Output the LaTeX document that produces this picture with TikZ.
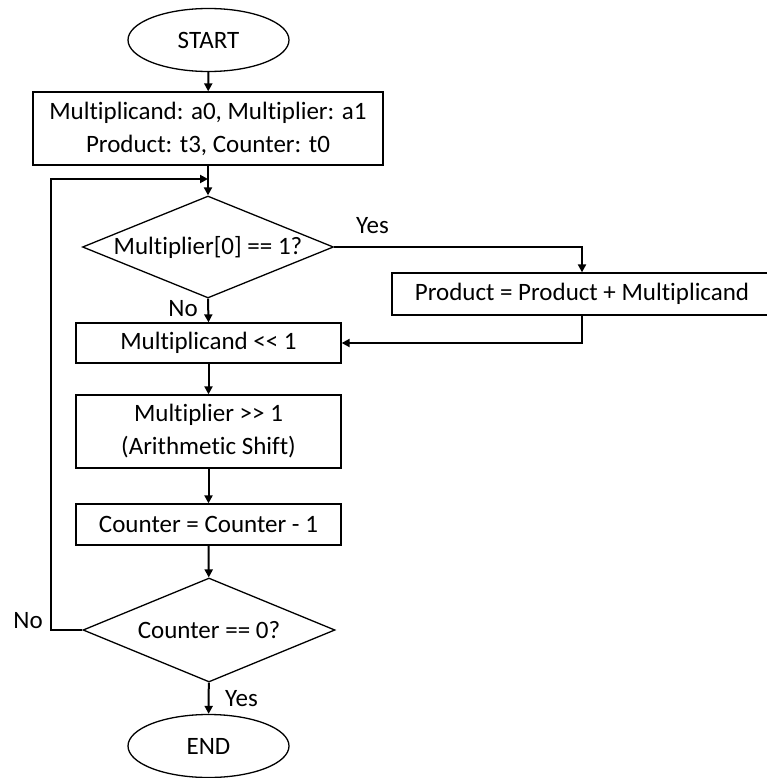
\documentclass[tikz,border=0pt]{standalone}
\usepackage{fontspec}
\setmainfont[Ligatures=NoCommon]{Carlito}
\usetikzlibrary{shapes.geometric,arrows.meta}
\begin{document}
\begin{tikzpicture}[x=1pt,y=-1pt,
  every node/.style={font=\fontsize{25}{33}\selectfont},
  procbox/.style={draw=black,line width=1.3pt,rectangle,inner sep=0pt,align=center},
  termbox/.style={draw=black,line width=1.3pt,ellipse,inner sep=0pt,minimum width=161pt,minimum height=63pt},
  decbox/.style={draw=black,line width=1.3pt,diamond,aspect=2.46,inner sep=0pt},
  conn/.style={line width=2pt,-{Triangle[length=8pt,width=8pt]}},
  lbl/.style={inner sep=0pt}
]
\useasboundingbox (0,0) rectangle (766,778);
\node[termbox] (start) at (208.5,40) {START};
\node[procbox,minimum width=350pt,minimum height=73pt] (init) at (208,128.5) {Multiplicand: a0, Multiplier: a1\\Product: t3, Counter: t0};
\node[decbox,minimum width=251pt,minimum height=102pt] (d1) at (208,247) {Multiplier[0] == 1?};
\node[procbox,minimum width=380pt,minimum height=42pt] (prod) at (582,294) {Product = Product + Multiplicand};
\node[procbox,minimum width=265pt,minimum height=40pt] (mcand) at (208.5,343) {Multiplicand {<}{<} 1};
\node[procbox,minimum width=265pt,minimum height=73pt] (mplier) at (208.5,431.5) {Multiplier {>}{>} 1\\(Arithmetic Shift)};
\node[procbox,minimum width=265pt,minimum height=41pt] (counter) at (208.5,524.5) {Counter = Counter - 1};
\node[decbox,minimum width=252pt,minimum height=104pt] (d2) at (209,630) {Counter == 0?};
\node[termbox] (end) at (208.5,746) {END};
\coordinate (j) at (208,179);
\coordinate (lp) at (51,630);
\draw[conn] (start) -- (init);
\draw[line width=2pt] (init.south) -- (j);
\draw[conn] (j) -- (d1.north);
\draw[conn] (d1.east) -| (prod.north);
\draw[conn] (prod.south) |- (mcand.east);
\draw[conn] (d1.south) -- (mcand.north);
\draw[conn] (mcand) -- (mplier);
\draw[conn] (mplier) -- (counter);
\draw[conn] (counter) -- (d2);
\draw[conn] (d2) -- (end);
\draw[conn] (d2.west) -- (lp) |- (j);
\node[lbl,anchor=east] (yes1) at (389,226) {Yes};
\node[lbl,anchor=east] (no1) at (198,309) {No};
\node[lbl,anchor=west] (yes2) at (225,699) {Yes};
\node[lbl,anchor=east] (no2) at (43,621) {No};
\end{tikzpicture}
\end{document}
